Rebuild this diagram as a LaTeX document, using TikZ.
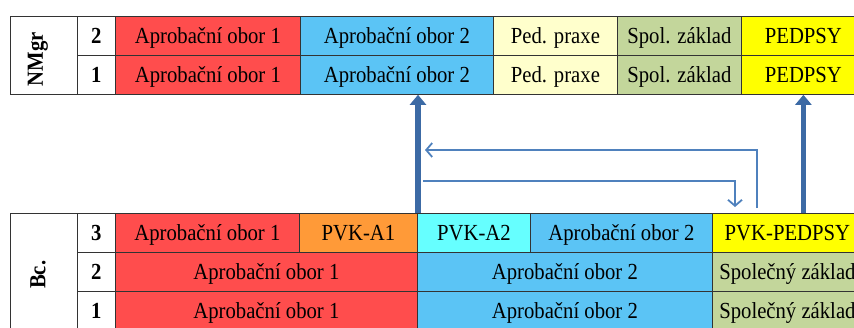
\documentclass[tikz,border=0pt]{standalone}
\usepackage{fontspec}
\setmainfont{Liberation Serif}[FakeStretch=0.9]
\usetikzlibrary{arrows.meta}

\definecolor{aoRed}{HTML}{FF4D4D}
\definecolor{aoBlue}{HTML}{5BC4F5}
\definecolor{praxeCream}{HTML}{FFFFCC}
\definecolor{spolGreen}{HTML}{C3D69B}
\definecolor{pedYellow}{HTML}{FFFF00}
\definecolor{pvkOrange}{HTML}{FF9A38}
\definecolor{pvkCyan}{HTML}{66FFFF}
\definecolor{arrowDark}{HTML}{3C6AA5}
\definecolor{arrowBlue}{HTML}{4F81BD}

\tikzset{
  cell/.style={draw=black!80, line width=0.8pt, anchor=north west, inner sep=0pt,
    minimum height=39pt, text height=18pt, text depth=3pt,
    font=\fontsize{23}{26}\selectfont},
  numcell/.style={cell, minimum width=38pt, font=\fontsize{23}{26}\selectfont\bfseries},
  thickarrow/.style={line width=5.5pt, draw=arrowDark, -{Triangle[length=10pt,width=16pt]}},
  thinarrow/.style={line width=1.8pt, draw=arrowBlue, -{Straight Barb[length=6pt,width=14pt]}},
}

\begin{document}
\begin{tikzpicture}[x=1pt,y=-1pt]

  \clip (0,0) rectangle (854,327);

% NMgr table
  \node[cell, minimum width=67pt, minimum height=78pt, text height=, text depth=,
    label={[xshift=-6pt,yshift=-4pt,rotate=90,font=\fontsize{23}{26}\selectfont\bfseries]center:NMgr}] (mgrLabel) at (10,16) {};
  \node[numcell] (mgrTwo) at (77,16) {2};
  \node[numcell] (mgrOne) at (77,55) {1};

  \node[cell, fill=aoRed, minimum width=185pt] (mgrAoOneB) at (115,16) {Aprobační obor 1};
  \node[cell, fill=aoBlue, minimum width=193pt] (mgrAoTwoB) at (300,16) {Aprobační obor 2};
  \node[cell, fill=praxeCream, minimum width=124pt] (mgrPraxeB) at (493,16) {Ped. praxe};
  \node[cell, fill=spolGreen, minimum width=124pt] (mgrSpolB) at (617,16) {Spol. základ};
  \node[cell, fill=pedYellow, minimum width=124pt] (mgrPedpsyB) at (741,16) {PEDPSY};

  \node[cell, fill=aoRed, minimum width=185pt] (mgrAoOneA) at (115,55) {Aprobační obor 1};
  \node[cell, fill=aoBlue, minimum width=193pt] (mgrAoTwoA) at (300,55) {Aprobační obor 2};
  \node[cell, fill=praxeCream, minimum width=124pt] (mgrPraxeA) at (493,55) {Ped. praxe};
  \node[cell, fill=spolGreen, minimum width=124pt] (mgrSpolA) at (617,55) {Spol. základ};
  \node[cell, fill=pedYellow, minimum width=124pt] (mgrPedpsyA) at (741,55) {PEDPSY};

% Bc. table
  \node[cell, minimum width=67pt, minimum height=117pt, text height=, text depth=,
    label={[xshift=-6pt,yshift=-3pt,rotate=90,font=\fontsize{23}{26}\selectfont\bfseries]center:Bc.}] (bcLabel) at (10,213) {};
  \node[numcell] (bcThree) at (77,213) {3};
  \node[numcell] (bcTwo) at (77,252) {2};
  \node[numcell] (bcOne) at (77,291) {1};

  \node[cell, fill=aoRed, minimum width=184pt] (bcAoOneC) at (115,213) {Aprobační obor 1};
  \node[cell, fill=pvkOrange, minimum width=118pt] (bcPvkA1) at (299,213) {PVK-A1};
  \node[cell, fill=pvkCyan, minimum width=113pt] (bcPvkA2) at (417,213) {PVK-A2};
  \node[cell, fill=aoBlue, minimum width=182pt] (bcAoTwoC) at (530,213) {Aprobační obor 2};
  \node[cell, fill=pedYellow, minimum width=150pt] (bcPvkPedpsy) at (712,213) {PVK-PEDPSY};

  \node[cell, fill=aoRed, minimum width=302pt] (bcAoOneB) at (115,252) {Aprobační obor 1};
  \node[cell, fill=aoBlue, minimum width=295pt] (bcAoTwoB) at (417,252) {Aprobační obor 2};
  \node[cell, fill=spolGreen, minimum width=150pt] (bcSpolB) at (712,252) {Společný základ};

  \node[cell, fill=aoRed, minimum width=302pt] (bcAoOneA) at (115,291) {Aprobační obor 1};
  \node[cell, fill=aoBlue, minimum width=295pt] (bcAoTwoA) at (417,291) {Aprobační obor 2};
  \node[cell, fill=spolGreen, minimum width=150pt] (bcSpolA) at (712,291) {Společný základ};

% thick arrows up
  \draw[thickarrow] ([xshift=1pt]bcPvkA2.north west) -- ([xshift=1pt]bcPvkA2.north west |- mgrAoTwoA.south);
  \draw[thickarrow] (mgrPedpsyA.south |- bcPvkPedpsy.north) -- (mgrPedpsyA.south);

% thin arrows
  \coordinate (backStart) at (757,208);
  \coordinate (backEnd) at (425,150);
  \draw[thinarrow] (backStart) |- (backEnd);
  \coordinate (fwdStart) at (423,181);
  \coordinate (fwdEnd) at (735,207);
  \draw[thinarrow] (fwdStart) -| (fwdEnd);

\end{tikzpicture}
\end{document}
